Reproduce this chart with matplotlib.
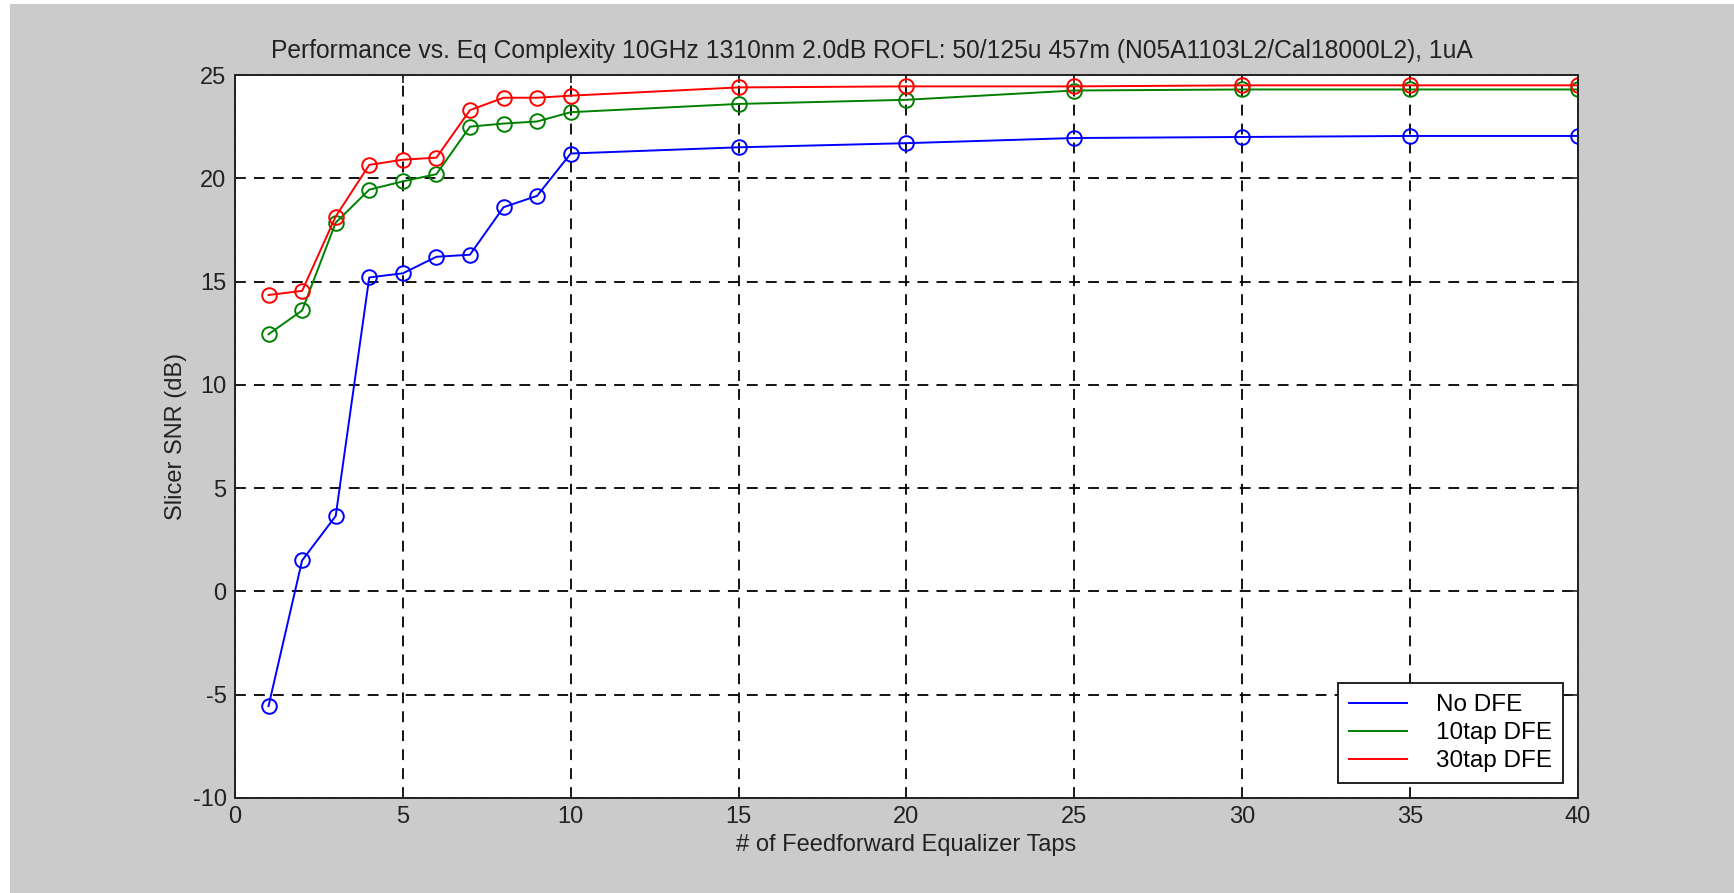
import numpy as np
import matplotlib
matplotlib.use('Agg')
import matplotlib.pyplot as plt
from matplotlib.patches import Rectangle

# Feedforward taps and slicer SNR (dB) per DFE setting
taps = [1, 2, 3, 4, 5, 6, 7, 8, 9, 10, 15, 20, 25, 30, 35, 40]
snr_no_dfe = [-5.55, 1.5, 3.65, 15.2, 15.4, 16.2, 16.3, 18.6, 19.15, 21.2,
              21.5, 21.7, 21.95, 22.0, 22.05, 22.05]
snr_10tap = [12.45, 13.6, 17.85, 19.45, 19.85, 20.2, 22.5, 22.65, 22.75, 23.2,
             23.6, 23.8, 24.25, 24.3, 24.3, 24.3]
snr_30tap = [14.35, 14.55, 18.15, 20.65, 20.9, 21.0, 23.3, 23.9, 23.9, 24.0,
             24.4, 24.45, 24.45, 24.5, 24.5, 24.5]
labels = ['No DFE', '10tap DFE', '30tap DFE']
colors = ['#0000ff', '#008000', '#ff0000']

plt.rcParams['font.family'] = ['Liberation Sans', 'DejaVu Sans']
plt.rcParams['axes.unicode_minus'] = False

fig = plt.figure(figsize=(17.34, 8.93), dpi=100, facecolor='white')
# grey window background (thin white strip on the left like the screenshot)
fig.patches.append(Rectangle((0.006, 0), 0.994, 0.996, transform=fig.transFigure,
                             facecolor='#cbcbcb', edgecolor='none', zorder=-10))

ax = fig.add_axes([0.1355, 0.1064, 0.7745, 0.8096])
ax.set_facecolor('white')

for ys, c, lab in zip([snr_no_dfe, snr_10tap, snr_30tap], colors, labels):
    ax.plot(taps, ys, color=c, lw=1.4, marker='o', markersize=10.5,
            markerfacecolor='none', markeredgecolor=c, markeredgewidth=1.4,
            label=lab)

ax.set_xlim(0, 40)
ax.set_ylim(-10, 25)
ax.set_xticks(np.arange(0, 41, 5))
ax.set_yticks(np.arange(-10, 26, 5))
ax.grid(True, color='black', linestyle=(0, (6, 4.5)), linewidth=1.3)
ax.tick_params(direction='in', top=True, right=True, length=6, width=1.2,
               labelsize=17, colors='#222222', pad=6)
for sp in ax.spines.values():
    sp.set_linewidth(1.4)
    sp.set_color('#222222')

ax.set_title('Performance vs. Eq Complexity 10GHz 1310nm 2.0dB ROFL: 50/125u 457m '
             '(N05A1103L2/Cal18000L2), 1uA', fontsize=17.7, color='#222222',
             pad=12, x=0.474)
ax.set_xlabel('# of Feedforward Equalizer Taps', fontsize=17, color='#222222')
ax.set_ylabel('Slicer SNR (dB)', fontsize=17, color='#222222')

leg = ax.legend(loc='lower right', fontsize=17.5, frameon=True, fancybox=False,
                edgecolor='#222222', framealpha=1, handlelength=2.4,
                handletextpad=1.2, labelspacing=0.25, borderaxespad=0.6,
                borderpad=0.45)
leg.get_frame().set_linewidth(1.4)
for h in leg.legend_handles:
    h.set_marker('')

fig.savefig('out.png', dpi=100, facecolor=fig.get_facecolor())
